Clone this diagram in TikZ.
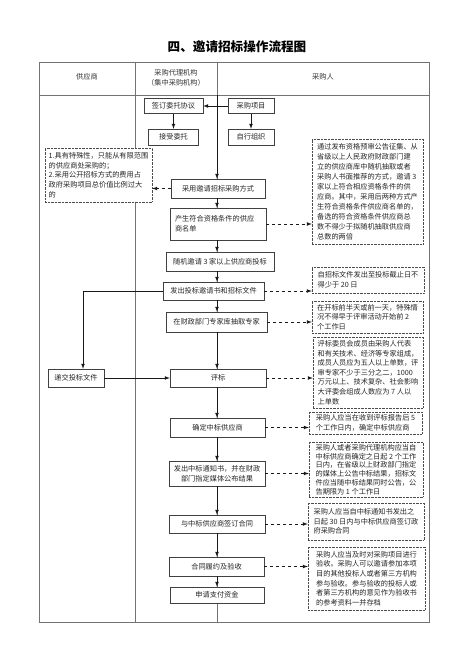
\documentclass[tikz,border=0pt]{standalone}
\usepackage{fontspec}
\setmainfont{Noto Sans CJK SC}
\usepackage{tikz}
\usetikzlibrary{shapes,arrows}

\tikzset{
  tableline/.style={draw=black!55, line width=0.8pt},
  headtext/.style={font=\fontsize{7.2}{9.6}\selectfont, text=black!80},
  flowbox/.style={draw=black!75, fill=white, minimum height=18pt, inner sep=2pt,
    font=\fontsize{7.2}{9.6}\selectfont, text=black!85},
  notebox/.style={draw=black!70, densely dotted, fill=white, align=left, inner sep=3pt,
    font=\fontsize{7.2}{9.6}\selectfont, text=black!85},
  flowarrow/.style={-latex, black!90, line width=0.7pt},
  notearrow/.style={-latex, dashed, black!90, line width=0.7pt},
}

\begin{document}
\begin{tikzpicture}[x=1pt, y=-1pt]
          \useasboundingbox (0,0) rectangle (474,670);
          \node[font=\fontsize{12.6}{14}\selectfont\bfseries] (title) at (237,47) {四、邀请招标操作流程图}; % title
          \draw[tableline] (39,62) rectangle (429,622); % table frame
          \draw[tableline] (39,95) -- (429,95);
          \draw[tableline] (135,62) -- (135,622);
          \draw[tableline] (217,62) -- (217,622);
          \coordinate (hdr) at (217,95);
          \node[headtext] (gys) at (87,77) {供应商};
          \node[headtext, align=center] (daili) at (176,78) {采购代理机构\\（集中采购机构）};
          \node[headtext] (cgr) at (323,77) {采购人};
          % main flow
          \node[flowbox, minimum width=59pt, minimum height=15pt] (qianding) at (173.5,106) {签订委托协议};
          \node[flowbox, minimum width=46pt, minimum height=15pt] (xiangmu) at (251,106) {采购项目};
          \node[flowbox, minimum width=50pt, minimum height=16pt] (jieshou) at (173.5,137) {接受委托};
          \node[flowbox, minimum width=46pt, minimum height=16pt] (zixing) at (251,137) {自行组织};
          \node[flowbox, minimum width=94pt, minimum height=19pt] (caiyong) at (218,188.5) {采用邀请招标采购方式};
          \node[flowbox, text width=86pt, align=left, inner xsep=5pt, minimum height=32pt] (chansheng) at (218,224)
            {产生符合资格条件的供应\\商名单};
          \node[flowbox, minimum width=108pt, minimum height=19pt] (suiji) at (220,261.5) {随机邀请 3 家以上供应商投标};
          \node[flowbox, minimum width=101pt] (fachu) at (213.5,291) {发出投标邀请书和招标文件};
          \node[flowbox, minimum width=101pt, minimum height=20pt] (zhuanjia) at (216.5,322) {在财政部门专家库抽取专家};
          \node[flowbox, minimum width=96pt] (pingbiao) at (218,378) {评标};
          \node[flowbox, minimum width=56pt] (dijiao) at (76,378) {递交投标文件};
          \node[flowbox, minimum width=95pt, minimum height=19pt] (queding) at (217.5,427.5) {确定中标供应商};
          \node[flowbox, minimum width=96pt, minimum height=25pt, align=center] (gongbu) at (217,473.5)
            {发出中标通知书，并在财政\\部门指定媒体公布结果};
          \node[flowbox, minimum width=96pt] (hetong) at (217,524) {与中标供应商签订合同};
          \node[flowbox, minimum width=95pt, minimum height=19pt] (lvyue) at (216.5,566.5) {合同履约及验收};
          \node[flowbox, minimum width=94pt, minimum height=16pt] (zhifu) at (217,595) {申请支付资金};
          % notes
          \node[notebox, minimum width=107pt, minimum height=54pt] (n0) at (98.5,175)
            {1.具有特殊性，只能从有限范围\\的供应商处采购的；\\2.采用公开招标方式的费用占\\政府采购项目总价值比例过大\\的};
          \node[notebox, minimum width=111pt, minimum height=105pt, font=\fontsize{7.2}{10}\selectfont] (n1) at (367.5,191.5)
            {通过发布资格预审公告征集、从\\省级以上人民政府财政部门建\\立的供应商库中随机抽取或者\\采购人书面推荐的方式，邀请 3\\家以上符合相应资格条件的供\\应商。其中，采用后两种方式产\\生符合资格条件供应商名单的，\\备选的符合资格条件供应商总\\数不得少于拟随机抽取供应商\\总数的两倍};
          \node[notebox, minimum width=112pt, minimum height=26pt] (n2) at (368,280)
            {自招标文件发出至投标截止日不\\得少于 20 日};
          \node[notebox, minimum width=111pt, minimum height=32pt] (n3) at (367.5,317)
            {在开标前半天或前一天，特殊情\\况不得早于评审活动开始前 2\\个工作日};
          \node[notebox, minimum width=110pt, minimum height=71pt] (n4) at (368,372.5)
            {评标委员会成员由采购人代表\\和有关技术、经济等专家组成，\\成员人员应为五人以上单数，评\\审专家不少于三分之二，1000\\万元以上、技术复杂、社会影响\\大评委会组成人数应为 7 人以\\上单数};
          \node[notebox, minimum width=113pt, minimum height=22pt, inner ysep=2pt] (n5) at (365.5,423)
            {采购人应当在收到评标报告后 5\\个工作日内，确定中标供应商};
          \node[notebox, minimum width=114pt, minimum height=55pt, inner ysep=2pt, font=\fontsize{7.2}{8.8}\selectfont] (n6) at (366,469.5)
            {采购人或者采购代理机构应当自\\中标供应商确定之日起 2 个工作\\日内，在省级以上财政部门指定\\的媒体上公告中标结果，招标文\\件应当随中标结果同时公告，公\\告期限为 1 个工作日};
          \node[notebox, minimum width=116pt, minimum height=37pt] (n7) at (366,521.5)
            {采购人应当自中标通知书发出之\\日起 30 日内与中标供应商签订政\\府采购合同};
          \node[notebox, minimum width=117pt, minimum height=63pt] (n8) at (366.5,578.5)
            {采购人应当及时对采购项目进行\\验收。采购人可以邀请参加本项\\目的其他投标人或者第三方机构\\参与验收。参与验收的投标人或\\者第三方机构的意见作为验收书\\的参考资料一并存档};
          % solid arrows
          \draw[flowarrow] (xiangmu) -- (qianding);
          \draw[flowarrow] (qianding) -- (jieshou);
          \draw[flowarrow] (xiangmu) -- (zixing);
          \draw[flowarrow] (hdr) -- (caiyong.north -| hdr);
          \draw[flowarrow] (caiyong.south -| hdr) -- (chansheng.north -| hdr);
          \draw[flowarrow] (chansheng.south -| hdr) -- (suiji.north -| hdr);
          \draw[flowarrow] (suiji.south -| hdr) -- (fachu.north -| hdr);
          \draw[flowarrow] (fachu.south -| hdr) -- (zhuanjia.north -| hdr);
          \draw[flowarrow] (zhuanjia.south -| hdr) -- (pingbiao.north -| hdr);
          \draw[flowarrow] (pingbiao.south -| hdr) -- (queding.north -| hdr);
          \draw[flowarrow] (queding.south -| hdr) -- (gongbu.north -| hdr);
          \draw[flowarrow] (gongbu.south -| hdr) -- (hetong.north -| hdr);
          \draw[flowarrow] (hetong.south -| hdr) -- (lvyue.north -| hdr);
          \draw[flowarrow] (lvyue.south -| hdr) -- (zhifu.north -| hdr);
          \draw[flowarrow] (fachu.west) -| ([xshift=7pt]dijiao.north); % to supplier
          \draw[flowarrow] (dijiao) -- (pingbiao);
          % dashed arrows to notes
          \draw[notearrow] (caiyong.west) -- (caiyong.west -| n0.east);
          \draw[notearrow] (chansheng.east) -- (chansheng.east -| n1.west);
          \draw[notearrow] (fachu.east) -- (fachu.east -| n2.west);
          \draw[notearrow] (zhuanjia.east) -- (zhuanjia.east -| n3.west);
          \draw[notearrow] (pingbiao.east) -- (pingbiao.east -| n4.west);
          \draw[notearrow] (queding.east) -- (queding.east -| n5.west);
          \draw[notearrow] (gongbu.east) -- (gongbu.east -| n6.west);
          \draw[notearrow] (hetong.east) -- (hetong.east -| n7.west);
          \draw[notearrow] (lvyue.east) -- (lvyue.east -| n8.west);
        \end{tikzpicture}
\end{document}
